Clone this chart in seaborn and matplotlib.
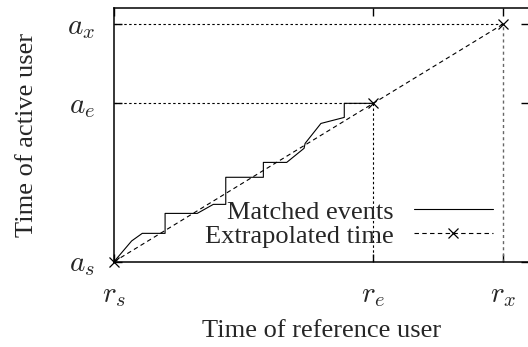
import matplotlib
matplotlib.use("Agg")
import matplotlib.pyplot as plt
import seaborn as sns
import pandas as pd

# Matched events (reference time, active time)
matched_x = [0, 0.68, 1.09, 1.97, 1.97, 3.21, 3.83, 4.31, 4.31, 5.76, 5.76,
             6.66, 7.33, 7.37, 7.98, 8.88, 8.88, 10.0]
matched_y = [0, 1.31, 1.79, 1.79, 3.05, 3.05, 3.62, 3.62, 5.33, 5.33, 6.27,
             6.27, 7.16, 7.47, 8.73, 9.11, 10.0, 10.0]

# Extrapolated time points: start, end of matching, extrapolated
extra_x = [0, 10, 15]
extra_y = [0, 10, 15]

xtick_vals = [0, 10, 15]
xtick_labels = [r"$r_s$", r"$r_e$", r"$r_x$"]
ytick_vals = [0, 10, 15]
ytick_labels = [r"$a_s$", r"$a_e$", r"$a_x$"]

sns.set_theme(style="ticks")
plt.rcParams["font.family"] = ["Liberation Serif", "DejaVu Serif"]
plt.rcParams["mathtext.fontset"] = "cm"

fig = plt.figure(figsize=(5.28, 3.47), dpi=100)
ax = fig.add_axes([114 / 528, 85.3 / 347, 414.9 / 528, 253.4 / 347])

df_m = pd.DataFrame({"x": matched_x, "y": matched_y})
df_e = pd.DataFrame({"x": extra_x, "y": extra_y})

# guide lines
dot = (0, (2.2, 2.2))
ax.plot([0, extra_x[1]], [extra_y[1], extra_y[1]], color="black", lw=0.8, ls=dot)
ax.plot([0, extra_x[2]], [extra_y[2], extra_y[2]], color="black", lw=0.8, ls=dot)
ax.plot([extra_x[1], extra_x[1]], [0, extra_y[1]], color="black", lw=0.8, ls=dot)
ax.plot([extra_x[2], extra_x[2]], [0, extra_y[2]], color="#666666", lw=1.0, ls=dot)

n0 = len(ax.lines)
sns.lineplot(data=df_m, x="x", y="y", sort=False, estimator=None, ax=ax,
             color="black", lw=0.8, legend=False)
line_m = ax.lines[n0]
n1 = len(ax.lines)
sns.lineplot(data=df_e, x="x", y="y", sort=False, estimator=None, ax=ax,
             color="black", lw=0.8, legend=False)
line_e = ax.lines[n1]
line_e.set_linestyle((0, (4, 3)))
line_e.set_marker("x")
line_e.set_markersize(7)
line_e.set_markeredgewidth(0.9)
line_e.set_markeredgecolor("black")
line_e.set_clip_on(False)

ax.set_xlim(0, 16)
ax.set_ylim(0, 16)
ax.set_xticks(xtick_vals)
ax.set_xticklabels(xtick_labels, fontsize=21)
ax.set_yticks(ytick_vals)
ax.set_yticklabels(ytick_labels, fontsize=21)
ax.tick_params(axis="both", direction="in", length=5.8, width=1.0,
               top=True, right=True, color="black")
ax.tick_params(axis="x", pad=15)
ax.tick_params(axis="y", pad=13.5)
for s in ax.spines.values():
    s.set_visible(True)
    s.set_linewidth(1.1)
    s.set_color("black")

ax.set_xlabel("Time of reference user", fontsize=19, va="center")
ax.set_ylabel("Time of active user", fontsize=19, va="center")
ax.xaxis.set_label_coords(0.5, (261.7 - 331) / 253.4)
ax.yaxis.set_label_coords((27 - 114) / 414.9, 0.5)

leg = ax.legend([line_m, line_e], ["Matched events", "Extrapolated time"],
                loc="lower right", bbox_to_anchor=(379 / 414.9, 14 / 253.4),
                frameon=False, markerfirst=False, fontsize=19, borderpad=0,
                borderaxespad=0, handlelength=3.0, handletextpad=0.75,
                labelspacing=0.02, numpoints=1)

fig.savefig("out.png", dpi=100)
